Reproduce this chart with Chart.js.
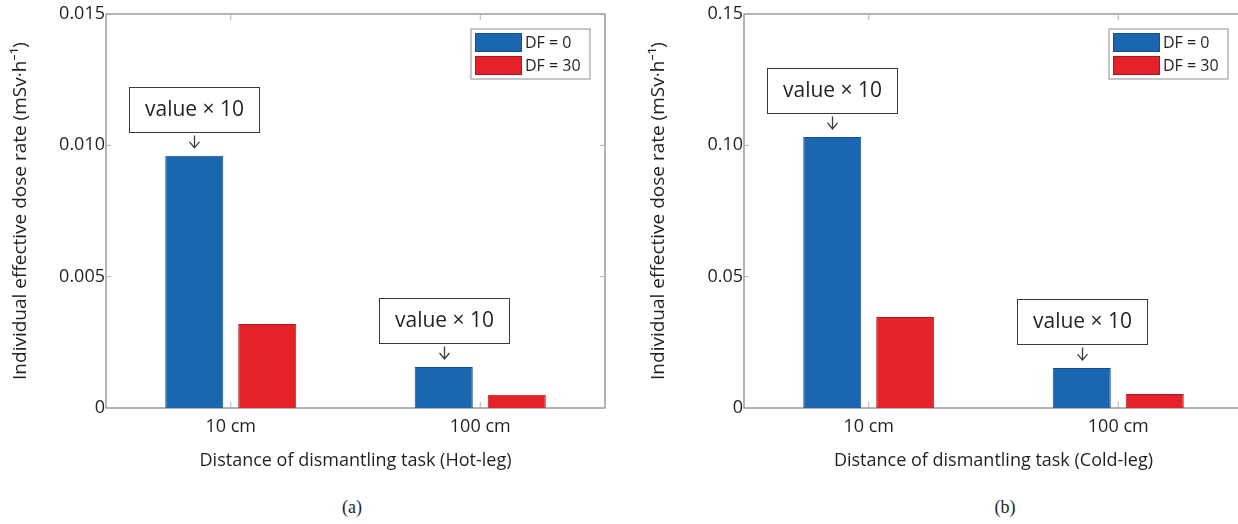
<!DOCTYPE html>
<html>
<head>
<meta charset="utf-8">
<script src="https://cdn.jsdelivr.net/npm/chart.js@4.4.1/dist/chart.umd.min.js"></script>
<style>
  html, body { margin: 0; padding: 0; background: #fff; width: 1238px; height: 524px; overflow: hidden; position: relative; }
  canvas { position: absolute; top: 0; }
  .sub { position: absolute; top: 497px; width: 60px; margin-left: -30px; text-align: center;
         font-family: "Liberation Serif", "DejaVu Serif", serif; font-size: 18px; color: #231f20; }
</style>
</head>
<body>
<canvas id="hotChart" width="625" height="485" style="left:0px"></canvas>
<canvas id="coldChart" width="625" height="485" style="left:638px"></canvas>
<div class="sub" style="left:352px">(a)</div>
<div class="sub" style="left:1005px">(b)</div>
<script>
const categories = ["10 cm", "100 cm"];
const seriesLabels = ["DF = 0", "DF = 30"];

const hotDF0 = [0.0096, 0.00156];
const hotDF30 = [0.0032, 0.0005];
const coldDF0 = [0.1032, 0.0152];
const coldDF30 = [0.0346, 0.0053];

const hotTicks = [0, 0.005, 0.010, 0.015];
const coldTicks = [0, 0.05, 0.10, 0.15];

// the DF = 0 bars carry a "value x 10" note in the source figure
const noteText = "value \u00d7 10";
const noteOnDF0 = [true, true];

const FONT = "'Open Sans', 'Noto Sans', sans-serif";
const TEXT = "#231f20";
const FRAME = "#8c8c8c";

const blue = "#1b66b1", blueEdge = "#174f8a";
const red = "#e52229", redEdge = "#a8181d";

const framePlugin = {
    id: "frame",
    beforeDatasetsDraw(chart) {
        const { ctx, chartArea: a, scales } = chart;
        ctx.save();
        ctx.strokeStyle = FRAME;
        ctx.lineWidth = 1.3;
        ctx.strokeRect(a.left, a.top, a.right - a.left, a.bottom - a.top);
        // small inward ticks, MATLAB style
        ctx.strokeStyle = "#b0b0b0";
        ctx.lineWidth = 1;
        ctx.beginPath();
        scales.y.ticks.forEach(t => {
            const y = scales.y.getPixelForValue(t.value);
            if (y <= a.top + 1 || y >= a.bottom - 1) return;
            ctx.moveTo(a.left, y); ctx.lineTo(a.left + 5, y);
            ctx.moveTo(a.right, y); ctx.lineTo(a.right - 5, y);
        });
        categories.forEach((c, i) => {
            const x = scales.x.getPixelForValue(i);
            ctx.moveTo(x, a.bottom); ctx.lineTo(x, a.bottom - 6);
            ctx.moveTo(x, a.top); ctx.lineTo(x, a.top + 6);
        });
        ctx.stroke();
        ctx.restore();
    },
    afterDraw(chart) {
        const { ctx, chartArea: a } = chart;
        ctx.save();

        // legend box
        const lw = 119, lh = 50;
        const lx = a.right - 15 - lw, ly = a.top + 15;
        ctx.fillStyle = "#fff";
        ctx.fillRect(lx, ly, lw, lh);
        ctx.strokeStyle = "#a0a0a0";
        ctx.lineWidth = 1.2;
        ctx.strokeRect(lx, ly, lw, lh);
        ctx.font = "16px " + FONT;
        ctx.textBaseline = "middle";
        ctx.textAlign = "left";
        chart.data.datasets.forEach((ds, i) => {
            const sy = ly + 4 + i * 23;
            ctx.fillStyle = ds.backgroundColor;
            ctx.fillRect(lx + 4, sy, 47, 19);
            ctx.strokeStyle = ds.borderColor;
            ctx.lineWidth = 1;
            ctx.strokeRect(lx + 4.5, sy + 0.5, 46, 18);
            ctx.fillStyle = TEXT;
            ctx.fillText(ds.label, lx + 54, sy + 10);
        });

        // "value x 10" callouts
        const meta = chart.getDatasetMeta(0);
        noteOnDF0.forEach((on, i) => {
            if (!on) return;
            const bar = meta.data[i];
            const bw = 130, bh = 45;
            const bx = Math.round(bar.x - bw / 2) + 0.5;
            const by = Math.round(bar.y - 24 - bh) + 0.5;
            ctx.fillStyle = "#fff";
            ctx.fillRect(bx, by, bw, bh);
            ctx.strokeStyle = "#3a3a3a";
            ctx.lineWidth = 1;
            ctx.strokeRect(bx, by, bw, bh);
            ctx.fillStyle = TEXT;
            ctx.font = "21px " + FONT;
            ctx.textAlign = "center";
            ctx.textBaseline = "middle";
            ctx.fillText(noteText, bx + bw / 2, by + bh / 2);

            const ax = Math.round(bar.x) + 0.5;
            const y0 = by + bh + 3, y1 = bar.y - 8;
            ctx.strokeStyle = "#3a3a3a";
            ctx.lineWidth = 1.3;
            ctx.beginPath();
            ctx.moveTo(ax, y0); ctx.lineTo(ax, y1);
            ctx.moveTo(ax - 5, y1 - 6); ctx.lineTo(ax, y1); ctx.lineTo(ax + 5, y1 - 6);
            ctx.stroke();
        });
        ctx.restore();
    }
};

function buildChart(id, df0, df30, ticks, decimals, legTitle) {
    const ctx = document.getElementById(id);
    return new Chart(ctx, {
        type: "bar",
        data: {
            labels: categories,
            datasets: [
                { label: seriesLabels[0], data: df0, backgroundColor: blue, borderColor: blueEdge, borderWidth: 1 },
                { label: seriesLabels[1], data: df30, backgroundColor: red, borderColor: redEdge, borderWidth: 1 }
            ]
        },
        options: {
            responsive: false,
            animation: false,
            devicePixelRatio: 1,
            categoryPercentage: 0.585,
            barPercentage: 0.795,
            layout: { padding: { top: 14, right: 20, left: 0, bottom: 0 } },
            plugins: { legend: { display: false }, tooltip: { enabled: false } },
            scales: {
                x: {
                    grid: { display: false, drawTicks: false, tickLength: 0 },
                    border: { display: false },
                    ticks: { color: TEXT, font: { family: FONT, size: 18 }, padding: 8, maxRotation: 0 },
                    title: {
                        display: true,
                        text: legTitle,
                        color: TEXT,
                        font: { family: FONT, size: 18 },
                        padding: { top: 0, bottom: 13 }
                    },
                    afterFit(scale) { scale.height = 77; }
                },
                y: {
                    min: ticks[0],
                    max: ticks[ticks.length - 1],
                    grid: { display: false, drawTicks: false, tickLength: 0 },
                    border: { display: false },
                    afterBuildTicks(scale) { scale.ticks = ticks.map(v => ({ value: v })); },
                    ticks: {
                        color: TEXT,
                        font: { family: FONT, size: 18 },
                        padding: 1,
                        callback: v => v === 0 ? "0" : v.toFixed(decimals)
                    },
                    title: {
                        display: true,
                        text: "Individual effective dose rate (mSv\u00b7h\u207b\u00b9)",
                        color: TEXT,
                        font: { family: FONT, size: 19 },
                        padding: { top: 9, bottom: 0 }
                    },
                    afterFit(scale) { scale.width = 106; }
                }
            }
        },
        plugins: [framePlugin]
    });
}

buildChart("hotChart", hotDF0, hotDF30, hotTicks, 3, "Distance of dismantling task (Hot-leg)");
buildChart("coldChart", coldDF0, coldDF30, coldTicks, 2, "Distance of dismantling task (Cold-leg)");
</script>
</body>
</html>
